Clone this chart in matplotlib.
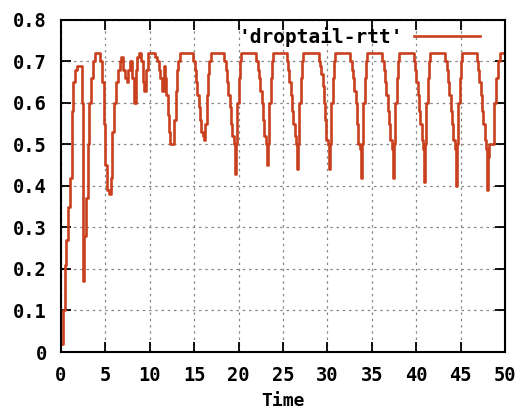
import matplotlib
matplotlib.use("Agg")
import matplotlib.pyplot as plt

# droptail RTT trace (seconds)
time = [0.0, 0.2, 0.4, 0.6, 0.8, 1.0, 1.2, 1.4, 1.6, 1.8, 2.3, 2.4, 2.5, 2.6, 2.8,
        3.0, 3.2, 3.4, 3.6, 3.8, 4.3, 4.4, 4.6, 4.8, 5.0, 5.2, 5.4, 5.6, 5.8,
        6.0, 6.2, 6.4, 6.6, 6.8, 7.0, 7.2, 7.4, 7.6, 7.8, 8.0, 8.2, 8.4, 8.6,
        8.8, 9.0, 9.2, 9.4, 9.6, 9.8, 10.4, 10.6, 10.8, 11.0, 11.2, 11.4, 11.55,
        11.7, 11.85, 12.0, 12.15, 12.3, 12.75, 12.9, 13.05, 13.2, 13.4,
        14.8, 14.9, 15.05, 15.2, 15.35, 15.5, 15.65, 15.8, 15.95, 16.1, 16.25,
        16.4, 16.55, 16.7, 16.85,
        18.3, 18.4, 18.55, 18.7, 18.85, 19.0, 19.15, 19.3, 19.45, 19.6, 19.7,
        19.85, 20.0, 20.15, 20.3,
        21.9, 22.0, 22.15, 22.3, 22.45, 22.6, 22.75, 22.9, 23.05, 23.2, 23.3,
        23.45, 23.6, 23.75, 23.9,
        25.3, 25.4, 25.55, 25.7, 25.85, 26.0, 26.15, 26.3, 26.45, 26.6, 26.7,
        26.85, 27.0, 27.15, 27.3,
        28.9, 29.0, 29.15, 29.3, 29.45, 29.6, 29.75, 29.9, 30.05, 30.2, 30.3,
        30.45, 30.6, 30.75, 30.9,
        32.5, 32.6, 32.75, 32.9, 33.05, 33.2, 33.35, 33.5, 33.65, 33.8, 33.9,
        34.05, 34.2, 34.35, 34.5,
        36.1, 36.2, 36.35, 36.5, 36.65, 36.8, 36.95, 37.1, 37.25, 37.4, 37.5,
        37.65, 37.8, 37.95, 38.1,
        39.6, 39.7, 39.85, 40.0, 40.15, 40.3, 40.45, 40.6, 40.75, 40.9, 41.0,
        41.15, 41.3, 41.45, 41.6,
        43.2, 43.3, 43.45, 43.6, 43.75, 43.9, 44.05, 44.2, 44.35, 44.5, 44.6,
        44.75, 44.9, 45.05, 45.2,
        46.7, 46.8, 46.95, 47.1, 47.25, 47.4, 47.55, 47.7, 47.85, 48.0, 48.1,
        48.25, 48.6, 48.8, 49.0, 49.2, 49.4, 50.0]

rtt = [0.02, 0.10, 0.21, 0.27, 0.35, 0.42, 0.58, 0.65, 0.68, 0.69, 0.69, 0.60, 0.17, 0.28, 0.37,
       0.50, 0.60, 0.66, 0.70, 0.72, 0.72, 0.70, 0.65, 0.55, 0.45, 0.39, 0.38, 0.42, 0.53,
       0.60, 0.65, 0.68, 0.70, 0.71, 0.68, 0.66, 0.65, 0.68, 0.70, 0.66, 0.60, 0.68, 0.71,
       0.72, 0.70, 0.65, 0.63, 0.68, 0.72, 0.72, 0.71, 0.70, 0.68, 0.66, 0.63, 0.69,
       0.66, 0.62, 0.57, 0.53, 0.50, 0.56, 0.63, 0.68, 0.70, 0.72,
       0.72, 0.70, 0.68, 0.65, 0.62, 0.59, 0.56, 0.53, 0.52, 0.51, 0.55,
       0.62, 0.67, 0.70, 0.72,
       0.72, 0.70, 0.68, 0.65, 0.62, 0.59, 0.55, 0.52, 0.50, 0.43, 0.50,
       0.60, 0.66, 0.70, 0.72,
       0.72, 0.70, 0.68, 0.66, 0.63, 0.60, 0.56, 0.52, 0.50, 0.45, 0.50,
       0.60, 0.66, 0.70, 0.72,
       0.72, 0.70, 0.68, 0.65, 0.62, 0.58, 0.55, 0.52, 0.50, 0.44, 0.50,
       0.60, 0.66, 0.70, 0.72,
       0.72, 0.70, 0.69, 0.67, 0.64, 0.60, 0.56, 0.51, 0.50, 0.44, 0.50,
       0.60, 0.66, 0.70, 0.72,
       0.72, 0.70, 0.68, 0.66, 0.63, 0.60, 0.55, 0.50, 0.49, 0.42, 0.50,
       0.60, 0.66, 0.70, 0.72,
       0.72, 0.70, 0.68, 0.65, 0.62, 0.58, 0.55, 0.51, 0.49, 0.42, 0.50,
       0.60, 0.66, 0.70, 0.72,
       0.72, 0.70, 0.68, 0.65, 0.62, 0.58, 0.55, 0.51, 0.49, 0.41, 0.50,
       0.60, 0.66, 0.70, 0.72,
       0.72, 0.70, 0.68, 0.65, 0.62, 0.58, 0.55, 0.51, 0.49, 0.40, 0.50,
       0.60, 0.66, 0.70, 0.72,
       0.72, 0.70, 0.68, 0.65, 0.62, 0.58, 0.55, 0.51, 0.49, 0.39, 0.47,
       0.50, 0.50, 0.60, 0.66, 0.70, 0.72, 0.72]

xticks = [0, 5, 10, 15, 20, 25, 30, 35, 40, 45, 50]
yticks = [0, 0.1, 0.2, 0.3, 0.4, 0.5, 0.6, 0.7, 0.8]
ylabels = ['0', '0.1', '0.2', '0.3', '0.4', '0.5', '0.6', '0.7', '0.8']

LINE = '#c8401e'

plt.rcParams['font.family'] = 'DejaVu Sans Mono'
plt.rcParams['font.weight'] = 'bold'
plt.rcParams['axes.labelweight'] = 'bold'
plt.rcParams['font.size'] = 13

fig = plt.figure(figsize=(5.24, 4.19), dpi=100)
ax = fig.add_axes([0.1164, 0.1599, 0.8473, 0.7924])

ax.plot(time, rtt, color=LINE, lw=1.9, drawstyle='steps-post', label="'droptail-rtt'")

ax.set_xlim(0, 50)
ax.set_ylim(0, 0.8)
ax.set_xticks(xticks)
ax.set_yticks(yticks)
ax.set_yticklabels(ylabels)
ax.grid(True, color='#888888', lw=0.9, linestyle=(0, (2, 3)))
ax.tick_params(direction='in', length=7, width=1.3, top=True, right=True, pad=10,
               labelsize=13.5)
for sp in ax.spines.values():
    sp.set_linewidth(1.5)
ax.set_xlabel('Time', labelpad=5, fontsize=13)

ax.legend(loc='center right', bbox_to_anchor=(0.944, 0.949), frameon=False,
          markerfirst=False, borderpad=0, borderaxespad=0, handlelength=3.4,
          handletextpad=0.55, fontsize=14)

fig.savefig('out.png', dpi=100)
